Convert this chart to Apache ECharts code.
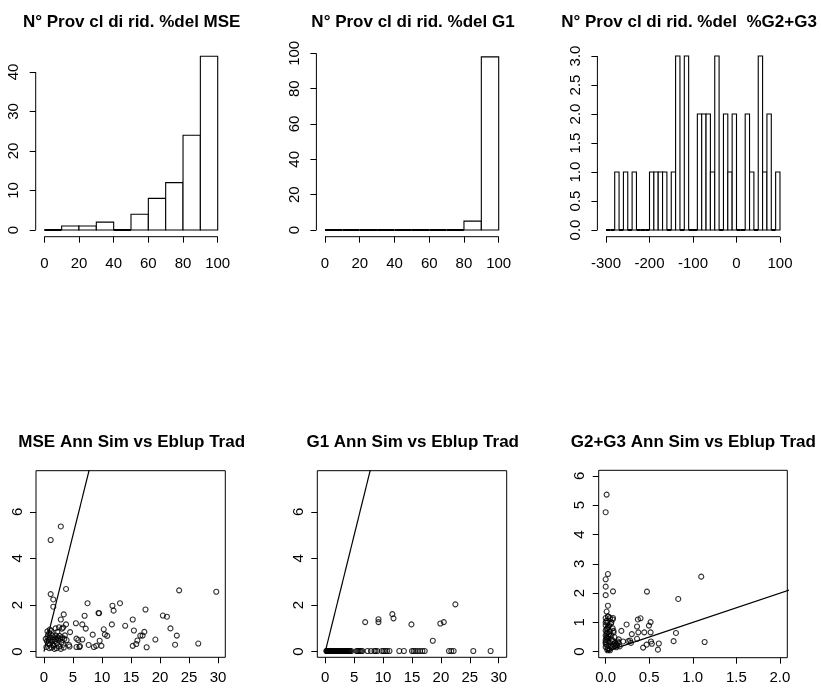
<!DOCTYPE html>
<html><head><meta charset="utf-8">
<script src="https://cdn.jsdelivr.net/npm/echarts@6/dist/echarts.min.js"></script>
<style>html,body{margin:0;padding:0;background:#fff}#c{width:821px;height:689px}</style>
</head><body><div id="c"></div>
<script>
// ---------------- DATA ----------------
const titles = [
  'N° Prov cl di rid. %del MSE',
  'N° Prov cl di rid. %del G1',
  'N° Prov cl di rid. %del  %G2+G3',
  'MSE Ann Sim vs Eblup Trad',
  'G1 Ann Sim vs Eblup Trad',
  'G2+G3 Ann Sim vs Eblup Trad'
];

const mseBreaks = [0,10,20,30,40,50,60,70,80,90,100];
const mseCounts = [0,1,1,2,0,4,8,12,24,44];

const g1Breaks = [0,10,20,30,40,50,60,70,80,90,100];
const g1Counts = [0,0,0,0,0,0,0,0,5,98];

const g23Breaks = [-300,-290,-280,-270,-260,-250,-240,-230,-220,-210,-200,-190,-180,-170,-160,-150,-140,-130,-120,-110,-100,-90,-80,-70,-60,-50,-40,-30,-20,-10,0,10,20,30,40,50,60,70,80,90,100];
const g23Counts = [0,0,1,0,1,0,1,0,0,0, 1,1,1,1,0,1,3,0,3,0, 0,2,2,2,1,3,0,2,1,2, 0,0,2,1,0,3,1,2,0,1];

const mseX = [1.15,2.9,1.15,3.8,1.6,1.6,7.5,13.1,11.8,12.0,9.4,9.5,7.0,3.4,2.9,17.5,15.3,20.5,21.2,23.3,29.7,21.8,22.9,22.6,26.6,19.2,17.7,17.3,17.0,16.6,16.1,15.5,15.3,15.9,14.0,11.7,10.3,10.5,10.9,9.6,9.9,9.0,8.6,8.4,7.7,7.2,6.6,5.5,5.6,5.9,6.6,6.2,6.1,5.6,4.5,4.3,4.4,3.8,3.3,3.1,3.9,
  0.3,0.5,0.6,0.7,0.8,0.9,1.0,1.0,1.1,1.2,1.3,1.4,1.5,1.6,1.7,1.8,1.9,2.0,2.1,2.2,2.3,2.4,2.5,2.6,2.7,2.8,3.0,3.1,3.3,3.5,3.6,0.4,0.9,1.2,2.0,2.6,0.7,1.7,2.9,3.4,0.6,2.2];
const mseY = [4.79,5.37,2.47,2.69,2.24,1.93,2.08,2.08,1.97,1.76,1.66,1.65,1.54,1.6,1.38,1.81,1.38,1.55,1.5,2.63,2.57,1.0,0.69,0.3,0.35,0.52,0.19,0.85,0.69,0.69,0.48,0.91,0.25,0.33,1.11,1.17,0.96,0.74,0.68,0.47,0.25,0.25,0.2,0.73,0.29,0.99,1.17,1.22,0.56,0.5,0.52,0.24,0.2,0.2,0.84,0.29,0.22,1.17,1.04,0.99,0.5,
  0.55,0.45,0.62,0.35,0.5,0.8,0.95,0.3,0.6,0.42,0.18,0.7,0.52,0.3,0.62,0.12,0.45,0.7,0.55,0.35,0.85,0.6,0.48,0.22,0.68,0.55,0.4,0.62,0.3,0.55,0.7,0.2,0.15,0.9,1.0,1.05,0.72,0.25,0.12,0.18,0.88,0.15];

const g1X = [6.9,9.2,9.2,11.6,11.8,14.9,18.6,19.9,20.5,22.5,
  0.2,0.25,0.35,0.45,0.5,0.55,0.6,0.7,0.75,0.8,0.9,0.95,1.0,1.1,1.15,1.2,1.3,1.35,1.4,1.5,1.55,1.6,1.7,1.75,1.8,1.9,1.95,2.0,2.1,2.15,2.2,2.3,2.4,2.45,2.5,2.6,2.7,2.75,2.8,2.9,3.0,3.1,3.2,3.3,3.4,3.5,3.6,3.7,3.8,3.9,4.0,4.1,4.2,4.3,4.5,
  5.4,5.6,5.8,6.0,6.2,6.4,7.3,7.9,8.5,8.7,9.0,9.8,10.1,10.4,10.7,11.1,12.8,13.6,15.0,15.3,15.6,16.0,16.4,16.8,17.2,21.4,21.8,22.2,25.6,28.6];
const g1Y = [1.27,1.39,1.27,1.61,1.43,1.17,0.47,1.21,1.27,2.03,
  0.03,0.03,0.03,0.03,0.03,0.03,0.03,0.03,0.03,0.03,0.03,0.03,0.03,0.03,0.03,0.03,0.03,0.03,0.03,0.03,0.03,0.03,0.03,0.03,0.03,0.03,0.03,0.03,0.03,0.03,0.03,0.03,0.03,0.03,0.03,0.03,0.03,0.03,0.03,0.03,0.03,0.03,0.03,0.03,0.03,0.03,0.03,0.03,0.03,0.03,0.03,0.03,0.03,0.03,0.03,
  0.03,0.03,0.03,0.03,0.03,0.03,0.03,0.03,0.03,0.03,0.03,0.03,0.03,0.03,0.03,0.03,0.03,0.03,0.03,0.03,0.03,0.03,0.03,0.03,0.03,0.03,0.03,0.03,0.03,0.03];

const g23X = [0.011,0.0,0.026,0.0,0.0,0.0,0.084,0.474,1.097,0.833,1.136,0.026,0.011,0.24,0.37,0.40,0.516,0.497,0.516,0.443,0.375,0.36,0.30,0.36,0.807,0.78,0.61,0.60,0.52,0.53,0.47,0.43,0.29,0.28,0.26,0.18,0.09,0.15,0.15,0.12,0.1,0.2,
  0.0,0.01,0.02,0.0,0.03,0.01,0.0,0.02,0.04,0.0,0.01,0.03,0.0,0.02,0.05,0.0,0.01,0.03,0.0,0.02,0.04,0.06,0.07,0.05,0.08,0.06,0.09,0.1,0.07,0.01,0.03,0.05,0.08,0.11,0.12,0.04,0.02,0.06,0.0,0.01,0.09,0.13,0.16,0.14,0.02,0.0,0.03,0.05,0.08,0.026,0.084,0.065];
const g23Y = [5.36,4.76,2.65,2.47,2.22,1.93,2.06,2.05,2.56,1.8,0.33,1.57,1.37,0.93,1.1,1.14,1.01,0.89,0.66,0.66,0.66,0.86,0.6,0.44,0.64,0.36,0.28,0.07,0.35,0.27,0.24,0.14,0.3,0.38,0.36,0.71,0.71,0.42,0.3,0.25,0.2,0.35,
  1.15,1.05,0.98,0.9,0.85,0.78,0.72,0.66,0.6,0.55,0.5,0.45,0.4,0.36,0.32,0.28,0.24,0.2,0.16,0.12,0.08,0.55,0.42,0.7,1.1,0.95,0.25,0.5,0.15,0.62,1.2,1.15,0.36,0.3,0.15,0.9,0.05,0.2,0.33,0.45,0.65,0.22,0.18,0.35,0.8,1.0,0.52,0.05,0.8,1.2,1.15,1.0];

const histTicksX = [0,20,40,60,80,100];
const mseTicksY = [0,10,20,30,40];
const g1TicksY = [0,20,40,60,80,100];
const g23TicksX = [-300,-200,-100,0,100];
const g23TicksY = [0,0.5,1,1.5,2,2.5,3];
const scTicksX = [0,5,10,15,20,25,30];
const scTicksY = [0,2,4,6];
const g23ScTicksX = [0,0.5,1,1.5,2];
const g23ScTicksY = [0,1,2,3,4,5,6];
const ablineSlope = 1, ablineIntercept = 0;

// ---------------- LAYOUT ----------------
const FONT = '"Liberation Sans", Arial, Helvetica, sans-serif';
const layout = [
  {grid:{left:35.7,top:49.2,width:190.6,height:187.5}, x:[-4.96,104.96], y:[-1.70,45.77], tx:histTicksX, ty:mseTicksY, cx:131.7, ty0:14, hist:true},
  {grid:{left:316.4,top:50,width:190.9,height:186.7}, x:[-4.95,104.95], y:[-3.79,101.87], tx:histTicksX, ty:g1TicksY, cx:413, ty0:14, hist:true},
  {grid:{left:597.4,top:49,width:191.2,height:187.7}, x:[-319.8,119.8], y:[-0.1155,3.12], tx:g23TicksX, ty:g23TicksY, cx:689, ty0:14, hist:true, yfmt:v=>v.toFixed(1)},
  {grid:{left:36,top:470.7,width:189.3,height:186.6}, x:[-1.38,31.26], y:[-0.24,7.76], tx:scTicksX, ty:scTicksY, cx:131.7, ty0:434},
  {grid:{left:317.3,top:470.7,width:189.4,height:186.6}, x:[-1.38,31.38], y:[-0.24,7.76], tx:scTicksX, ty:scTicksY, cx:412.7, ty0:434},
  {grid:{left:598.7,top:470.3,width:188.6,height:187.4}, x:[-0.08,2.085], y:[-0.205,6.19], tx:g23ScTicksX, ty:g23ScTicksY, cx:693.3, ty0:434, xfmt:v=>v.toFixed(1)}
];

const grids = [], xAxes = [], yAxes = [], series = [], titleOpts = [];
layout.forEach((L, i) => {
  grids.push(Object.assign({
    show: !L.hist, borderColor:'#000', borderWidth:1, backgroundColor:'transparent',
    containLabel:false, outerBoundsMode:'none'
  }, L.grid));
  const lab = {color:'#000', fontFamily:FONT, fontSize:15};
  xAxes.push({
    type:'value', gridIndex:i, min:L.x[0], max:L.x[1], position:'bottom',
    axisLine:{show:false, onZero:false}, splitLine:{show:false},
    axisTick:{show:true, length:6, customValues:L.tx, lineStyle:{color:'#000', width:1}},
    axisLabel:Object.assign({customValues:L.tx, margin:L.hist?20:13, formatter:L.xfmt||(v=>String(v))}, lab)
  });
  yAxes.push({
    type:'value', gridIndex:i, min:L.y[0], max:L.y[1], position:'left',
    axisLine:{show:false, onZero:false}, splitLine:{show:false},
    axisTick:{show:true, length:6, customValues:L.ty, lineStyle:{color:'#000', width:1}},
    axisLabel:Object.assign({customValues:L.ty, rotate:90, margin:L.hist?14:11, formatter:L.yfmt||(v=>String(v))}, lab)
  });
  titleOpts.push({
    text:titles[i], left:L.cx, top:L.ty0, textAlign:'center', padding:0,
    textStyle:{fontFamily:FONT, fontSize:17, fontWeight:'bold', color:'#000'}
  });
  if (L.hist) {
    // R-style axis line segments spanning the tick range
    series.push({type:'line', xAxisIndex:i, yAxisIndex:i, silent:true, clip:false, showSymbol:false,
      lineStyle:{color:'#000', width:1}, data:[[L.tx[0], L.y[0]],[L.tx[L.tx.length-1], L.y[0]]]});
    series.push({type:'line', xAxisIndex:i, yAxisIndex:i, silent:true, clip:false, showSymbol:false,
      lineStyle:{color:'#000', width:1}, data:[[L.x[0], L.ty[0]],[L.x[0], L.ty[L.ty.length-1]]]});
  }
});

function histSeries(idx, breaks, counts) {
  const data = counts.map((c, k) => [breaks[k], breaks[k+1], c]);
  return {
    type:'custom', xAxisIndex:idx, yAxisIndex:idx, silent:true, clip:false,
    data, encode:{x:[0,1], y:2},
    renderItem(params, api) {
      const p0 = api.coord([api.value(0), 0]);
      const p1 = api.coord([api.value(1), api.value(2)]);
      const flat = api.value(2) === 0;
      return {type:'rect', shape:{x:p0[0], y:p1[1], width:p1[0]-p0[0], height:p0[1]-p1[1]},
        style:{fill:'#fff', stroke:'#000', lineWidth: flat ? 2 : 1.1}};
    }
  };
}
series.push(histSeries(0, mseBreaks, mseCounts));
series.push(histSeries(1, g1Breaks, g1Counts));
series.push(histSeries(2, g23Breaks, g23Counts));

function scatterSeries(idx, xs, ys) {
  return {type:'scatter', xAxisIndex:idx, yAxisIndex:idx, silent:true, symbol:'circle', symbolSize:5,
    itemStyle:{color:'rgba(0,0,0,0)', borderColor:'#000', borderWidth:1.1},
    data: xs.map((x, k) => [x, ys[k]])};
}
function ablineSeries(idx, xmax) {
  return {type:'line', xAxisIndex:idx, yAxisIndex:idx, silent:true, showSymbol:false, clip:true,
    lineStyle:{color:'#000', width:1.2},
    data:[[0, ablineIntercept], [xmax, ablineIntercept + ablineSlope*xmax]]};
}
series.push(scatterSeries(3, mseX, mseY));
series.push(ablineSeries(3, 40));
series.push(scatterSeries(4, g1X, g1Y));
series.push(ablineSeries(4, 40));
series.push(scatterSeries(5, g23X, g23Y));
series.push(ablineSeries(5, 3));

const chart = echarts.init(document.getElementById('c'), null, {renderer:'canvas'});
chart.setOption({
  backgroundColor:'#fff', animation:false,
  title:titleOpts, grid:grids, xAxis:xAxes, yAxis:yAxes, series
});
</script></body></html>
